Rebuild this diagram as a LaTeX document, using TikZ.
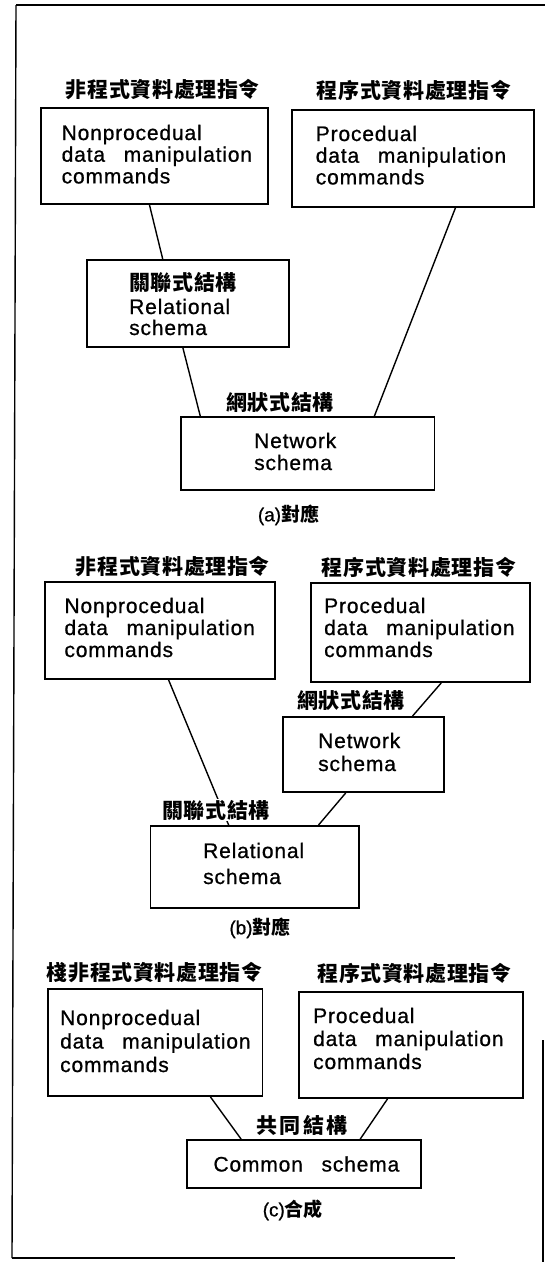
\documentclass[tikz,border=0pt]{standalone}
\usepackage{fontspec}
\usetikzlibrary{calc}
\newfontfamily\enfont{Liberation Sans}[LetterSpace=4,FakeBold=0.8]
\newfontfamily\capfont{Liberation Sans}[FakeBold=0.8]
\newfontfamily\zhfont{Noto Sans CJK TC}[LetterSpace=3]
\newfontfamily\zhwide{Noto Sans CJK TC}[LetterSpace=12]
\newfontfamily\zhplain{Noto Sans CJK TC}
\newcommand\entxt{\enfont\fontsize{21}{22}\selectfont}
\newcommand\enlines[1]{\enfont\fontsize{21}{#1}\selectfont}
\newcommand\zhtxt{\zhfont\bfseries\fontsize{21}{24}\selectfont}
\newcommand\zhwidetxt{\zhwide\bfseries\fontsize{21}{24}\selectfont}
\newcommand\captxt{\fontsize{19}{22}\selectfont}
\newcommand\wsp{\hspace{12pt} }
\newcommand\figcaption[2]{{\capfont(#1)}{\zhplain\bfseries #2}}
\begin{document}
\begin{tikzpicture}[x=1pt,y=-1pt,
  box/.style={draw, line width=1.8pt, inner sep=0pt},
  wire/.style={line width=1.4pt},
  frame/.style={line width=1.4pt},
  % multi-line text: anchored at the baseline of its last line
  entext/.style={font=\entxt, align=left, anchor=base west, inner sep=0pt},
  zhlabel/.style={font=\zhtxt, inner sep=1pt},
  caption/.style={font=\captxt, inner sep=1pt}]
\useasboundingbox (0,0) rectangle (545,1262);

% outer frame
\draw[frame] (16,5) -- (545,5);
\draw[frame] (16,5) -- (12,1258);
\draw[frame] (12,1258) -- (455,1258);
\draw[frame] (543,1040) -- (543,1262);

% ---------------- (a) ----------------
\node[zhlabel] (npA-lab) at (163,90) {非程式資料處理指令};
\node[zhlabel] (pA-lab) at (414,90) {程序式資料處理指令};
\node[box, minimum width=227pt, minimum height=96pt] (npA) at (154.5,156) {};
\node[entext, font=\enlines{21.7}] (npA-txt) at (61.5,183.4) {Nonprocedual\\data\wsp manipulation\\commands};
\node[box, minimum width=242pt, minimum height=97pt] (pA) at (413,158.5) {};
\node[entext, font=\enlines{21.7}] (pA-txt) at (315.6,184.4) {Procedual\\data\wsp manipulation\\commands};
\node[box, minimum width=202pt, minimum height=87pt] (relA) at (188,303.5) {};
\node[font=\zhtxt, anchor=base west, inner sep=0pt] (relA-zh) at (129,290) {關聯式結構};
\node[entext, font=\enlines{21}] (relA-txt) at (129,335) {Relational\\schema};
\node[zhlabel] (netA-lab) at (280,402) {網狀式結構};
\node[box, minimum width=253.5pt, minimum height=73pt] (netA) at (307.75,453.5) {};
\node[entext, font=\enlines{22}] (netA-txt) at (254,470) {Network\\schema};
\node[caption] (capA) at (288.5,515) {\figcaption{a}{對應}};

\coordinate (npA-s) at ($(npA.south west)!0.478!(npA.south east)$);
\coordinate (pA-s) at ($(pA.south west)!0.674!(pA.south east)$);
\coordinate (relA-n) at ($(relA.north west)!0.376!(relA.north east)$);
\coordinate (relA-s) at ($(relA.south west)!0.475!(relA.south east)$);
\coordinate (netA-n1) at ($(netA.north west)!0.079!(netA.north east)$);
\coordinate (netA-n2) at ($(netA.north west)!0.761!(netA.north east)$);
\draw[wire] (npA-s) -- (relA-n);
\draw[wire] (relA-s) -- (netA-n1);
\draw[wire] (pA-s) -- (netA-n2);

% ---------------- (b) ----------------
\node[zhlabel] (npB-lab) at (173,567) {非程式資料處理指令};
\node[zhlabel] (pB-lab) at (419,567) {程序式資料處理指令};
\node[box, minimum width=230pt, minimum height=97pt] (npB) at (160,630.5) {};
\node[entext, font=\enlines{22}] (npB-txt) at (64.3,657) {Nonprocedual\\data\wsp manipulation\\commands};
\node[box, minimum width=219pt, minimum height=99pt] (pB) at (420.5,632.5) {};
\node[entext, font=\enlines{22}] (pB-txt) at (324,657) {Procedual\\data\wsp manipulation\\commands};
\node[zhlabel] (netB-lab) at (351,700) {網狀式結構};
\node[box, minimum width=161pt, minimum height=75pt] (netB) at (363.5,754.5) {};
\node[entext, font=\enlines{23}] (netB-txt) at (318,771) {Network\\schema};
\node[box, minimum width=208.5pt, minimum height=82pt] (relB) at (254.75,867) {};
\node[entext, font=\enlines{26}] (relB-txt) at (203,884) {Relational\\schema};
\node[caption] (capB) at (260,928) {\figcaption{b}{對應}};

\coordinate (npB-s) at ($(npB.south west)!0.537!(npB.south east)$);
\coordinate (pB-s) at ($(pB.south west)!0.594!(pB.south east)$);
\coordinate (netB-n) at ($(netB.north west)!0.801!(netB.north east)$);
\coordinate (netB-s) at ($(netB.south west)!0.391!(netB.south east)$);
\coordinate (relB-n1) at ($(relB.north west)!0.376!(relB.north east)$);
\coordinate (relB-n2) at ($(relB.north west)!0.803!(relB.north east)$);
\draw[wire] (npB-s) -- (relB-n1);
\draw[wire] (pB-s) -- (netB-n);
\draw[wire] (netB-s) -- (relB-n2);
\node[zhlabel, fill=white] (relB-lab) at (216,810) {關聯式結構};

% ---------------- (c) ----------------
\node[zhlabel] (npC-lab) at (154.7,973) {棧非程式資料處理指令};
\node[zhlabel] (pC-lab) at (414.5,973) {程序式資料處理指令};
\node[box, minimum width=214.8pt, minimum height=107pt] (npC) at (155,1042.5) {};
\node[entext, font=\enlines{23.5}] (npC-txt) at (60,1072) {Nonprocedual\\data\wsp manipulation\\commands};
\node[box, minimum width=224pt, minimum height=106pt] (pC) at (411,1045) {};
\node[entext, font=\enlines{23}] (pC-txt) at (313,1069) {Procedual\\data\wsp manipulation\\commands};
\node[font=\zhwidetxt, inner sep=1pt] (comC-lab) at (302,1125) {共同結構};
\node[box, minimum width=234pt, minimum height=48pt] (comC) at (303.6,1164) {};
\node[font=\entxt, anchor=base west, inner sep=0pt] (comC-txt) at (213.3,1171.5) {Common\wsp schema};
\node[caption] (capC) at (292.8,1210) {\figcaption{c}{合成}};

\coordinate (npC-s) at ($(npC.south west)!0.756!(npC.south east)$);
\coordinate (pC-s) at ($(pC.south west)!0.396!(pC.south east)$);
\coordinate (comC-n1) at ($(comC.north west)!0.235!(comC.north east)$);
\coordinate (comC-n2) at ($(comC.north west)!0.740!(comC.north east)$);
\draw[wire] (npC-s) -- (comC-n1);
\draw[wire] (pC-s) -- (comC-n2);
\end{tikzpicture}
\end{document}
